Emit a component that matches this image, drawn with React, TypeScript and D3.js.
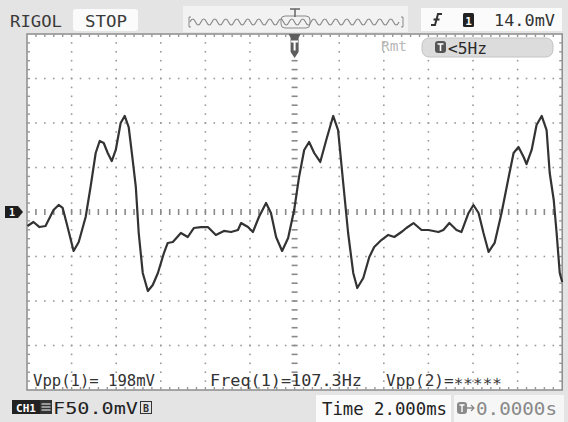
import React from "react";
import * as d3 from "d3";

// Waveform samples: time (ms, relative to trigger) and voltage (mV)
const TIME_MS = [-11.98,-11.71,-11.44,-11.17,-10.81,-10.58,-10.40,-10.18,-9.91,-9.68,-9.37,-9.15,-8.92,-8.74,-8.56,-8.38,-8.20,-8.02,-7.80,-7.62,-7.44,-7.26,-7.12,-6.99,-6.81,-6.58,-6.36,-6.13,-5.86,-5.69,-5.46,-5.10,-4.79,-4.52,-4.20,-3.89,-3.53,-3.17,-2.85,-2.54,-2.40,-2.09,-1.87,-1.60,-1.28,-1.06,-0.83,-0.56,-0.29,-0.02,0.20,0.43,0.65,0.88,1.15,1.42,1.73,1.95,2.18,2.40,2.63,2.81,3.08,3.35,3.57,3.89,4.20,4.47,4.79,5.01,5.33,5.69,6.00,6.45,6.67,6.94,7.26,7.48,7.80,8.02,8.25,8.47,8.70,8.97,9.28,9.60,9.82,10.04,10.27,10.40,10.63,10.85,11.08,11.30,11.44,11.62,11.75,11.89,12.0];
const VOLT_MV = [-15.7,-11.2,-16.9,-15.7,2.2,7.9,4.5,-16.9,-43.8,-33.7,-5.6,28.1,66.3,79.8,77.5,66.3,57.3,69.7,100.0,107.9,95.5,58.4,28.1,-23.6,-68.5,-88.8,-82.0,-68.5,-46.1,-34.8,-33.7,-23.6,-28.1,-18.0,-16.9,-16.9,-25.8,-21.3,-22.5,-20.2,-12.4,-16.9,-22.5,-5.6,10.1,-1.1,-28.1,-43.8,-29.2,2.2,39.3,69.7,78.7,66.3,56.2,80.9,107.9,92.1,32.6,-23.6,-68.5,-85.4,-74.2,-50.6,-39.3,-31.5,-25.8,-28.1,-22.5,-18.0,-12.4,-20.2,-20.2,-22.5,-20.2,-12.4,-20.2,-22.5,-1.1,7.9,-1.1,-23.6,-44.9,-34.8,-1.1,39.3,66.3,73.0,61.8,53.9,69.7,97.8,107.9,92.1,43.8,13.5,-23.6,-68.5,-78.7];

const TIME_DOMAIN = [-12, 12];
const VOLT_DOMAIN = [-200, 200];
const TIME_MAJOR = 2;
const VOLT_MAJOR = 50;

const BRAND = "RIGOL";
const RUN_STATE = "STOP";
const TRIG_LEVEL = "14.0mV";
const REMOTE = "Rmt";
const TRIG_FREQ = "<5Hz";
const MEASUREMENTS = ["Vpp(1)= 198mV", "Freq(1)=107.3Hz", "Vpp(2)=∗∗∗∗∗"];
const CH_SCALE = "F50.0mV";
const TIMEBASE = "Time 2.000ms";
const DELAY = "0.0000s";

const FONT = "'DejaVu Sans Mono', monospace";

export default function App() {
  const W = 568, H = 422;
  const L = 27, R = 562.2, T = 34, B = 390;
  const x = d3.scaleLinear().domain(TIME_DOMAIN).range([L, R]);
  const y = d3.scaleLinear().domain(VOLT_DOMAIN).range([B, T]);

  const data = TIME_MS.map((t, i) => [t, VOLT_MV[i]] as [number, number]);
  const line = d3.line<[number, number]>().x(d => x(d[0])).y(d => y(d[1])).curve(d3.curveLinear);

  const majorX = d3.range(TIME_DOMAIN[0], TIME_DOMAIN[1] + 0.001, TIME_MAJOR);
  const majorY = d3.range(VOLT_DOMAIN[0], VOLT_DOMAIN[1] + 0.001, VOLT_MAJOR);
  const minorX = d3.range(TIME_DOMAIN[0], TIME_DOMAIN[1] + 0.001, TIME_MAJOR / 5);
  const minorY = d3.range(VOLT_DOMAIN[0], VOLT_DOMAIN[1] + 0.001, VOLT_MAJOR / 5);

  const dots: JSX.Element[] = [];
  majorX.slice(1, -1).forEach((mx, i) => {
    if (mx === 0) return;
    minorY.slice(1, -1).forEach((my, j) => {
      dots.push(<rect key={`vx${i}-${j}`} x={x(mx) - 0.8} y={y(my) - 0.8} width={1.6} height={1.6} fill="#9a9a9a" />);
    });
  });
  majorY.slice(1, -1).forEach((my, i) => {
    if (my === 0) return;
    minorX.slice(1, -1).forEach((mx, j) => {
      dots.push(<rect key={`hy${i}-${j}`} x={x(mx) - 0.8} y={y(my) - 0.8} width={1.6} height={1.6} fill="#9a9a9a" />);
    });
  });
  // center cross: short dashes
  minorX.slice(1, -1).forEach((mx, j) => {
    dots.push(<rect key={`cx${j}`} x={x(mx) - 0.8} y={y(0) - 3} width={1.6} height={6} fill="#8a8a8a" />);
  });
  minorY.slice(1, -1).forEach((my, j) => {
    dots.push(<rect key={`cy${j}`} x={x(0) - 3} y={y(my) - 0.8} width={6} height={1.6} fill="#8a8a8a" />);
  });
  // border ticks
  minorX.slice(1, -1).forEach((mx, j) => {
    dots.push(<rect key={`bt${j}`} x={x(mx) - 0.7} y={T} width={1.4} height={3} fill="#999" />);
    dots.push(<rect key={`bb${j}`} x={x(mx) - 0.7} y={B - 3} width={1.4} height={3} fill="#999" />);
  });
  minorY.slice(1, -1).forEach((my, j) => {
    dots.push(<rect key={`bl${j}`} x={L} y={y(my) - 0.7} width={3} height={1.4} fill="#999" />);
    dots.push(<rect key={`br${j}`} x={R - 3} y={y(my) - 0.7} width={3} height={1.4} fill="#999" />);
  });

  // memory bar decorative wave glyph
  let wave = "M190,22";
  for (let i = 0; i < 19; i++) wave += " q2.75,-6 5.5,0 q2.75,6 5.5,0";

  const cx0 = x(0);

  return (
    <div style={{ position: "absolute", left: 0, top: 0 }}>
      <svg width={W} height={H} style={{ display: "block" }} fontFamily={FONT}>
        <rect x={0} y={0} width={W} height={H} fill="#e4e4e4" />
        {/* top bar */}
        <text x={10} y={27} fontSize={16.5} fill="#3a3a3a" textLength={52} lengthAdjust="spacingAndGlyphs">{BRAND}</text>
        <rect x={73} y={9} width={65} height={22} rx={3} fill="#fbfbfb" />
        <text x={85} y={27} fontSize={16.5} fill="#3a3a3a" textLength={42} lengthAdjust="spacingAndGlyphs">{RUN_STATE}</text>

        <rect x={183} y={6} width={225} height={26} fill="#f2f2f2" />
        <path d="M191,17 h-2 v10 h2" fill="none" stroke="#888" strokeWidth={1} />
        <path d="M401,17 h2 v10 h-2" fill="none" stroke="#888" strokeWidth={1} />
        <path d={wave} fill="none" stroke="#8a8a8a" strokeWidth={1.2} />
        <rect x={281} y={16} width={29} height={12} rx={4} fill="none" stroke="#888" strokeWidth={1} />
        <path d="M290,9 h10 M295,9 v8" stroke="#666" strokeWidth={1.5} />

        <rect x={421} y={8} width={141} height={23} fill="#fbfbfb" />
        <path d="M431,25 h4 l3,-11 h4 M433.5,19.5 h6" fill="none" stroke="#333" strokeWidth={2} />
        <rect x={463} y={13} width={11} height={14} rx={1.5} fill="#222" />
        <text x={468.5} y={24.5} fontSize={11} fill="#fff" textAnchor="middle" fontWeight="bold">1</text>
        <text x={494} y={26} fontSize={16.5} fill="#333" textLength={61} lengthAdjust="spacingAndGlyphs">{TRIG_LEVEL}</text>

        {/* screen */}
        <rect x={L} y={T} width={R - L} height={B - T} fill="#fff" stroke="#8c8c8c" strokeWidth={1.5} />
        {dots}

        {/* trigger position marker */}
        <path d={`M${cx0 - 6},34 h12 l-2,4 v14 l-4,6 l-4,-6 v-14 z`} fill="#5e5e5e" />
        <path d={`M${cx0 - 3.5},41.5 h7 M${cx0},41.5 v9`} stroke="#fff" strokeWidth={2} />

        <text x={381} y={51} fontSize={14} fill="#b8b8b8" textLength={26} lengthAdjust="spacingAndGlyphs">{REMOTE}</text>
        <rect x={422} y={38} width={131} height={19} rx={7} fill="#dcdcdc" stroke="#c4c4c4" strokeWidth={1} />
        <rect x={435} y={41} width={11} height={12} rx={3} fill="#555" />
        <path d="M437.5,44 h6 M440.5,44 v7" stroke="#fff" strokeWidth={1.6} />
        <text x={448} y={54} fontSize={16} fill="#2a2a2a" textLength={39} lengthAdjust="spacingAndGlyphs">{TRIG_FREQ}</text>

        {/* channel marker */}
        <path d={`M5,${y(0) - 6} h13 l5,6 l-5,6 h-13 z`} fill="#1e1e1e" />
        <text x={12} y={y(0) + 4} fontSize={10} fill="#fff" textAnchor="middle" fontWeight="bold">1</text>

        {/* waveform */}
        <path d={line(data) || ""} fill="none" stroke="#333" strokeWidth={2.2} strokeLinejoin="round" />

        {/* measurements */}
        <text x={33} y={386} fontSize={15.5} fill="#333" textLength={122} lengthAdjust="spacingAndGlyphs">{MEASUREMENTS[0]}</text>
        <text x={210} y={386} fontSize={15.5} fill="#333" textLength={152} lengthAdjust="spacingAndGlyphs">{MEASUREMENTS[1]}</text>
        <text x={386} y={386} fontSize={15.5} fill="#333" textLength={116} lengthAdjust="spacingAndGlyphs">{MEASUREMENTS[2]}</text>

        {/* bottom bar */}
        <rect x={12} y={400} width={28} height={14} fill="#222" />
        <text x={26} y={411.5} fontSize={11} fill="#fff" textAnchor="middle" fontWeight="bold">CH1</text>
        <rect x={40} y={400} width={12} height={14} fill="#333" />
        <path d="M41.5,404 h9 M41.5,407 h9 M41.5,410 h9" stroke="#fff" strokeWidth={1} />
        <text x={53} y={414} fontSize={16} fill="#222" textLength={85} lengthAdjust="spacingAndGlyphs">{CH_SCALE}</text>
        <rect x={140.5} y={401.5} width={11} height={12} fill="none" stroke="#333" strokeWidth={1} />
        <text x={146} y={411.5} fontSize={10} fill="#333" textAnchor="middle" fontWeight="bold">B</text>

        <rect x={316} y={395} width={135} height={27} fill="#fbfbfb" />
        <text x={322} y={415} fontSize={17} fill="#222" textLength={125} lengthAdjust="spacingAndGlyphs">{TIMEBASE}</text>
        <rect x={454} y={395} width={110} height={27} fill="#f6f6f6" />
        <rect x={457} y={402} width={10} height={12} rx={3} fill="#8a8a8a" />
        <path d="M459.5,405 h5 M462,405 v7" stroke="#fff" strokeWidth={1.4} />
        <path d="M467,408 h7 M471,405 l3,3 l-3,3" fill="none" stroke="#8a8a8a" strokeWidth={1.3} />
        <text x={476} y={415} fontSize={17} fill="#888" textLength={81} lengthAdjust="spacingAndGlyphs">{DELAY}</text>
      </svg>
    </div>
  );
}
